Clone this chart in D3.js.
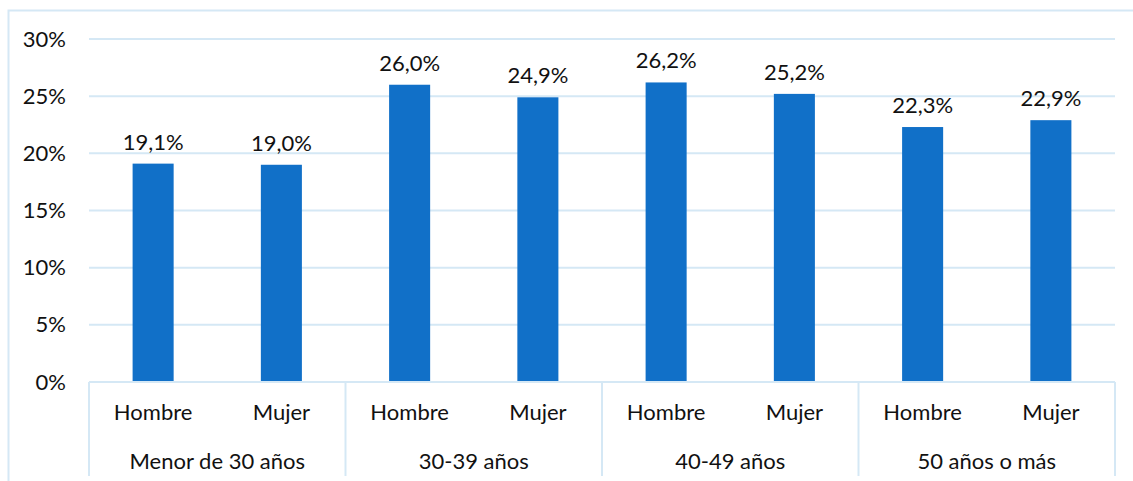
<!DOCTYPE html>
<html>
<head>
<meta charset="utf-8">
<script src="https://cdn.jsdelivr.net/npm/d3@7"></script>
<style>
  body { margin: 0; background: #fff; }
  text { font-family: Lato, "Open Sans", sans-serif; fill: #111; }
</style>
</head>
<body>
<div id="vis"></div>
<script>
/* Data */
var groups = ["Menor de 30 años", "30-39 años", "40-49 años", "50 años o más"];
var sexes = ["Hombre", "Mujer"];
var values = [19.1, 19.0, 26.0, 24.9, 26.2, 25.2, 22.3, 22.9];
var yTicks = [0, 5, 10, 15, 20, 25, 30];

var W = 1133, H = 481;
var margin = { top: 39, right: 18, bottom: 99, left: 89 },
    width = W - margin.left - margin.right,
    height = H - margin.top - margin.bottom;

var gridColor = "#d5e8f5", barColor = "#1170c8", fs = "22px";

var svg = d3.select("#vis").append("svg").attr("width", W).attr("height", H);

// outer frame
svg.append("rect").attr("x", 8.5).attr("y", 10.5).attr("width", W).attr("height", H)
    .attr("fill", "none").attr("stroke", gridColor).attr("stroke-width", 2);

var chart = svg.append("g").attr("transform", "translate(" + margin.left + "," + margin.top + ")");

/* Scales */
var keys = [];
groups.forEach(function (g, i) {
    sexes.forEach(function (s, j) { keys.push(i + "|" + j); });
});
var x = d3.scaleBand().domain(keys).range([0, width]).paddingInner(0.68).paddingOuter(0.34);
var xg = d3.scaleBand().domain(groups).range([0, width]);
var y = d3.scaleLinear().domain([0, 30]).range([height, 0]);

/* Grid */
chart.append("g").selectAll("line").data(yTicks.filter(function (d) { return d > 0; }))
    .enter().append("line")
    .attr("x1", 0).attr("x2", width)
    .attr("y1", function (d) { return y(d); }).attr("y2", function (d) { return y(d); })
    .attr("stroke", gridColor).attr("stroke-width", 2);

/* Y axis labels */
var yAxis = d3.axisLeft(y).tickValues(yTicks).tickSize(0).tickPadding(23)
    .tickFormat(function (d) { return d + "%"; });
var yAxisDraw = chart.append("g").call(yAxis);
yAxisDraw.select(".domain").remove();
yAxisDraw.selectAll("text").style("font-size", fs).style("font-family", "Lato, sans-serif").attr("fill", "#111");

/* Bars */
chart.append("g").selectAll("rect").data(values).enter().append("rect")
    .attr("x", function (d, i) { return x(keys[i]); })
    .attr("width", x.bandwidth())
    .attr("y", function (d) { return y(d); })
    .attr("height", function (d) { return height - y(d); })
    .attr("fill", barColor);

/* Value labels */
chart.append("g").selectAll("text").data(values).enter().append("text")
    .attr("x", function (d, i) { return x(keys[i]) + x.bandwidth() / 2; })
    .attr("y", function (d) { return y(d) - 14; })
    .attr("text-anchor", "middle")
    .style("font-size", fs)
    .text(function (d) { return d.toFixed(1).replace(".", ",") + "%"; });

/* Category axis */
var axisG = chart.append("g").attr("transform", "translate(0," + height + ")");
axisG.append("line").attr("x1", 0).attr("x2", width).attr("y1", 0).attr("y2", 0)
    .attr("stroke", gridColor).attr("stroke-width", 2);
var seps = groups.map(function (g) { return xg(g); }).concat([width]);
axisG.selectAll(".sep").data(seps).enter().append("line")
    .attr("x1", function (d) { return d; }).attr("x2", function (d) { return d; })
    .attr("y1", 0).attr("y2", 94)
    .attr("stroke", gridColor).attr("stroke-width", 2);

axisG.selectAll(".sex").data(keys).enter().append("text")
    .attr("x", function (d) { return x(d) + x.bandwidth() / 2; })
    .attr("y", 38)
    .attr("text-anchor", "middle")
    .style("font-size", fs)
    .text(function (d) { return sexes[+d.split("|")[1]]; });

axisG.selectAll(".grp").data(groups).enter().append("text")
    .attr("x", function (d) { return xg(d) + xg.bandwidth() / 2; })
    .attr("y", 87)
    .attr("text-anchor", "middle")
    .style("font-size", fs)
    .text(function (d) { return d; });
</script>
</body>
</html>
